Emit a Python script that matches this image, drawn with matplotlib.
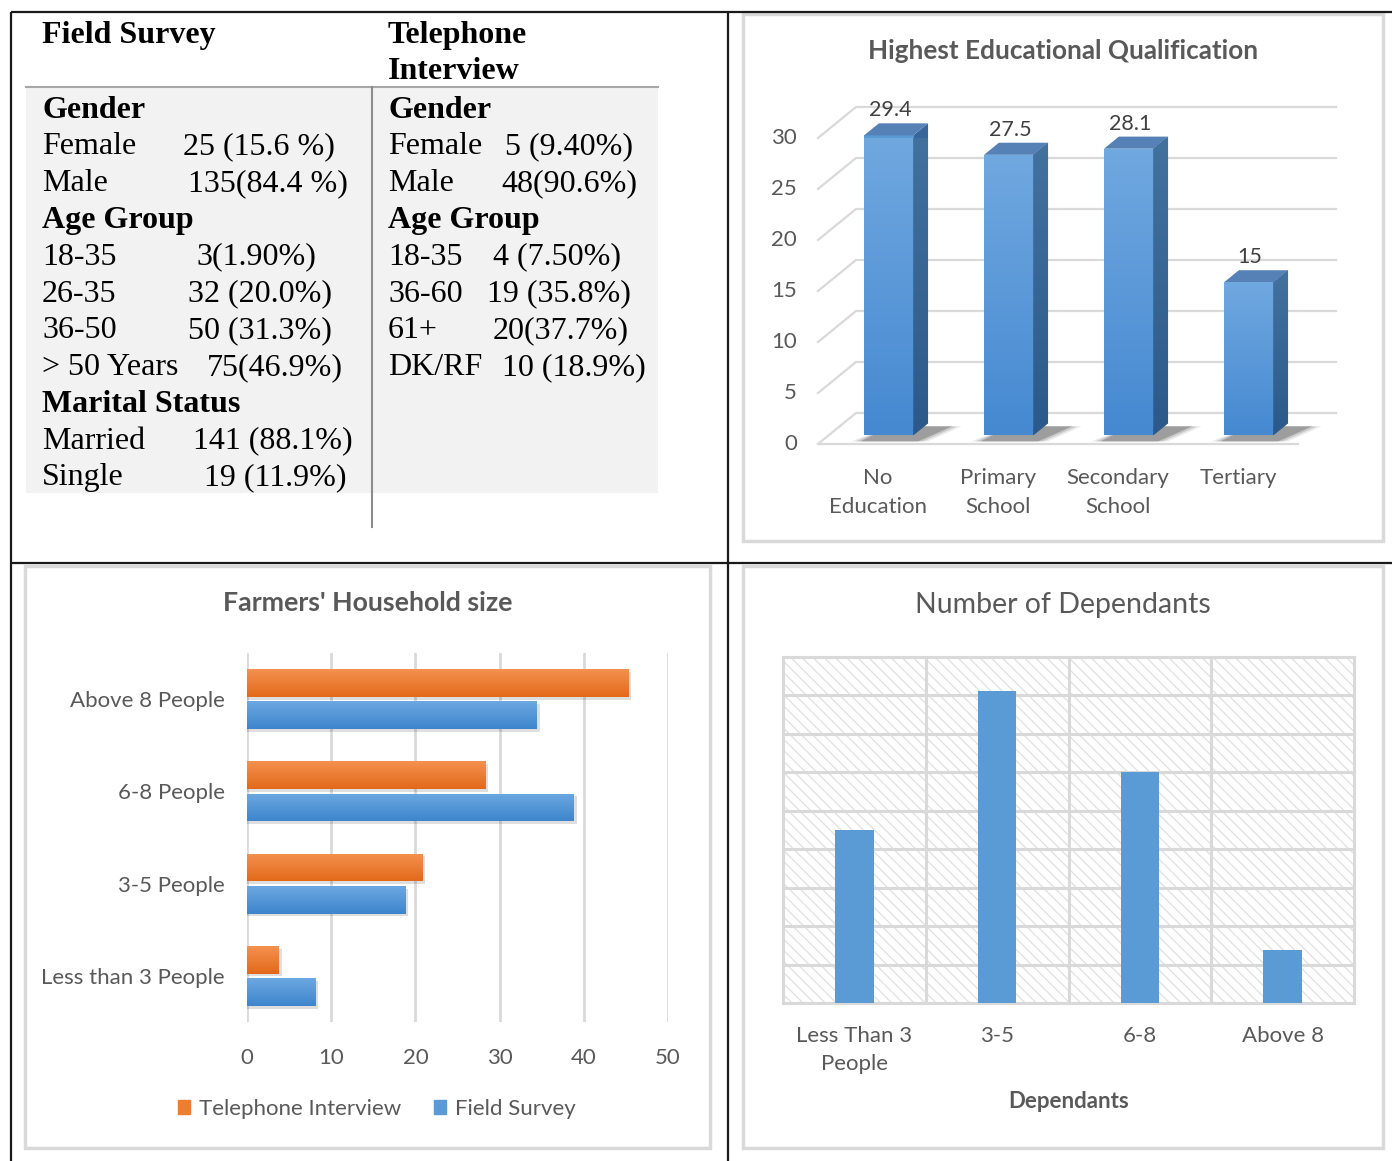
import numpy as np
import matplotlib
matplotlib.use("Agg")
import matplotlib.pyplot as plt
from matplotlib.patches import Polygon, Rectangle, Patch
from matplotlib.colors import LinearSegmentedColormap

W, H = 1392, 1161
SERIF = "Liberation Serif"
SANS = "Lato"
TXT = "#595959"
GRID = "#D9D9D9"

# respondent profile table
field_sections = ["Gender", "Age Group", "Marital Status"]
field_labels = [["Female", "Male"],
                ["18-35", "26-35", "36-50", "> 50 Years"],
                ["Married", "Single"]]
field_values = [["25 (15.6 %)", "135(84.4 %)"],
                ["3(1.90%)", "32 (20.0%)", "50 (31.3%)", "75(46.9%)"],
                ["141 (88.1%)", "19 (11.9%)"]]
phone_sections = ["Gender", "Age Group"]
phone_labels = [["Female", "Male"],
                ["18-35", "36-60", "61+", "DK/RF"]]
phone_values = [["5 (9.40%)", "48(90.6%)"],
                ["4 (7.50%)", "19 (35.8%)", "20(37.7%)", "10 (18.9%)"]]

# highest educational qualification (%)
edu_levels = ["No\nEducation", "Primary\nSchool", "Secondary\nSchool", "Tertiary"]
edu_pct = [29.4, 27.5, 28.1, 15]

# household size (%)
household_sizes = ["Less than 3 People", "3-5 People", "6-8 People", "Above 8 People"]
household_phone = [3.8, 20.8, 28.3, 45.3]
household_field = [8.1, 18.8, 38.8, 34.4]

# number of dependants (%)
dependant_groups = ["Less Than 3\nPeople", "3-5", "6-8", "Above 8"]
dependant_pct = [22.5, 40.6, 30.0, 6.9]

# x where the value column starts in each table row
field_value_x = [183, 188, 196, 188, 188, 207, 193, 204]
phone_value_x = [505, 501, 493, 487, 493, 502]

fig = plt.figure(figsize=(W / 100, H / 100), dpi=100)
bg = fig.add_axes([0, 0, 1, 1])
bg.set_xlim(0, W)
bg.set_ylim(H, 0)
bg.axis("off")

plt.rcParams["hatch.linewidth"] = 0.9


def add_ax(x0, y0, x1, y1):
    return fig.add_axes([x0 / W, 1 - y1 / H, (x1 - x0) / W, (y1 - y0) / H])


def gradient_fill(ax, patch, c_top, c_bottom, extent, z):
    cmap = LinearSegmentedColormap.from_list("g", [c_top, c_bottom])
    grad = np.linspace(0, 1, 64).reshape(-1, 1)
    im = ax.imshow(grad, cmap=cmap, extent=extent, aspect="auto",
                   zorder=z, interpolation="bilinear")
    im.set_clip_path(patch)
    return im


# outer table frame
frame = dict(color="#1a1a1a", lw=1.6, solid_capstyle="butt")
bg.plot([11, W], [12, 12], **frame)
bg.plot([11, W], [563, 563], **frame)
bg.plot([11, 11], [12, H], **frame)
bg.plot([728, 728], [12, H], **frame)

# chart panel borders
for x0, y0, x1, y1 in [(743, 14, 1383, 541), (25, 566, 710, 1148), (743, 566, 1383, 1148)]:
    bg.add_patch(Rectangle((x0, y0), x1 - x0, y1 - y0, fill=False, ec=GRID, lw=2.5))

# ---- profile table ----
bg.add_patch(Rectangle((26, 88), 632, 405, fc="#F2F2F2", ec="none"))
bg.plot([26, 658], [87, 87], color="#A6A6A6", lw=1.5)
bg.plot([372, 372], [87, 527], color="#8C8C8C", lw=1.5)

tfont = dict(fontfamily=SERIF, fontsize=23, color="black", va="baseline")
bg.text(42, 43, "Field Survey", fontweight="bold", **tfont)
bg.text(388, 43, "Telephone", fontweight="bold", **tfont)
bg.text(388, 79, "Interview", fontweight="bold", **tfont)


def table_column(x_label, sections, labels, values, value_x):
    r, k = 0, 0
    for sec, labs, vals in zip(sections, labels, values):
        bg.text(x_label, 117.5 + r * 36.8, sec, fontweight="bold", **tfont)
        r += 1
        for lab, val in zip(labs, vals):
            y = 117.5 + r * 36.8
            bg.text(x_label, y, lab, **tfont)
            bg.text(value_x[k], y, val, **tfont)
            r += 1
            k += 1


table_column(42, field_sections, field_labels, field_values, field_value_x)
table_column(388, phone_sections, phone_labels, phone_values, phone_value_x)

# ---- 3D column chart: education ----
bg.text(1063, 51, "Highest Educational Qualification", ha="center", va="center",
        fontfamily=SANS, fontweight="bold", fontsize=18.8, color=TXT)

ax3 = add_ax(818, 138, 1298, 444)
ax3.axis("off")
DX, DY = 38 / 120, 31 / 10.2      # depth vector in data units
for v in range(0, 31, 5):
    ax3.plot([-0.5, -0.5 + DX, 3.5 + DX], [v, v + DY, v + DY], color=GRID,
             lw=1.6, clip_on=False, zorder=1)
    ax3.text(-0.675, v, str(v), ha="right", va="center", fontfamily=SANS,
             fontsize=16, color=TXT)
ax3.plot([-0.5, 3.5], [0, 0], color=GRID, lw=1.6, clip_on=False, zorder=1)

F0, BW, DEP = 0.28, 0.41, 0.39
ddx, ddy = DEP * DX, DEP * DY
for i, (v, lab) in enumerate(zip(edu_pct, edu_levels)):
    x0 = i - BW / 2 + F0 * DX
    x1 = x0 + BW
    y0 = F0 * DY
    y1 = y0 + v
    # soft floor shadow
    for grow, a in [(0.08, 0.10), (0.04, 0.18), (0.0, 0.28)]:
        shadow = Polygon([(x0 - 0.03 - grow, y0 - 0.6), (x1 + 0.04 + grow, y0 - 0.6),
                          (x1 + ddx + 0.2 + grow, y0 + ddy - 0.3),
                          (x0 + ddx + 0.1, y0 + ddy - 0.3)],
                         closed=True, fc="#303030", ec="none", alpha=a,
                         clip_on=False, zorder=2)
        ax3.add_patch(shadow)
    front = Polygon([(x0, y0), (x1, y0), (x1, y1), (x0, y1)], closed=True,
                    fc="#5B9BD5", ec="none", clip_on=False, zorder=3)
    side = Polygon([(x1, y0), (x1 + ddx, y0 + ddy), (x1 + ddx, y1 + ddy), (x1, y1)],
                   closed=True, fc="#36669A", ec="none", clip_on=False, zorder=3)
    top = Polygon([(x0, y1), (x1, y1), (x1 + ddx, y1 + ddy), (x0 + ddx, y1 + ddy)],
                  closed=True, fc="#5581B6", ec="none", clip_on=False, zorder=3)
    for p in (front, side, top):
        ax3.add_patch(p)
    gradient_fill(ax3, front, "#70A8E0", "#4689D1", [x0, x1, y0, y1], 4)
    gradient_fill(ax3, side, "#44729F", "#2C5989", [x1, x1 + ddx, y0, y1 + ddy], 4)
    ax3.text(i + 0.1, v + 3.3, f"{v:g}", ha="center", va="center",
             fontfamily=SANS, fontsize=15.5, color="#404040")
    ax3.text(i, -2.35, lab, ha="center", va="top", fontfamily=SANS,
             fontsize=16, color=TXT, linespacing=1.55)
ax3.set_xlim(-0.5, 3.5)
ax3.set_ylim(0, 30)

# ---- horizontal bars: household size ----
bg.text(368, 603, "Farmers' Household size", ha="center", va="center",
        fontfamily=SANS, fontweight="bold", fontsize=19.3, color=TXT)

axh = add_ax(247, 653, 668, 1022)
ypos = np.arange(len(household_sizes))
ORANGE, BLUE = "#ED7D31", "#5B9BD5"
BH, OFF = 0.30, 0.175
# drop shadows
axh.barh(ypos + OFF - 0.03, np.array(household_phone) + 0.35, height=BH,
         color="black", alpha=0.13, zorder=2)
axh.barh(ypos - OFF - 0.03, np.array(household_field) + 0.35, height=BH,
         color="black", alpha=0.13, zorder=2)
phone_bars = axh.barh(ypos + OFF, household_phone, height=BH, color=ORANGE, zorder=3)
field_bars = axh.barh(ypos - OFF, household_field, height=BH, color=BLUE, zorder=3)
for bar in phone_bars:
    x, y, w, h = bar.get_x(), bar.get_y(), bar.get_width(), bar.get_height()
    gradient_fill(axh, bar, "#F4914F", "#E2691A", [x, x + w, y, y + h], 4)
for bar in field_bars:
    x, y, w, h = bar.get_x(), bar.get_y(), bar.get_width(), bar.get_height()
    gradient_fill(axh, bar, "#6CA8E1", "#3E85CD", [x, x + w, y, y + h], 4)
axh.set_xlim(0, 50)
axh.set_ylim(-0.5, 3.5)
axh.set_xticks(range(0, 51, 10))
axh.set_yticks(ypos, household_sizes)
axh.grid(axis="x", color=GRID, lw=2)
axh.set_axisbelow(True)
for s in axh.spines.values():
    s.set_visible(False)
axh.tick_params(length=0, colors=TXT, labelsize=16)
axh.tick_params(axis="x", pad=18.5)
axh.tick_params(axis="y", pad=16)
for t in axh.get_xticklabels() + axh.get_yticklabels():
    t.set_fontfamily(SANS)

handles = [Patch(color=ORANGE), Patch(color=BLUE)]
fig.legend(handles, ["Telephone Interview", "Field Survey"], loc="center",
           bbox_to_anchor=(377 / W, 1 - 1109 / H), ncol=2, frameon=False,
           handlelength=0.55, handleheight=0.55, handletextpad=0.4,
           columnspacing=1.45, labelcolor=TXT,
           prop=dict(family=SANS, size=16))

# ---- columns: number of dependants ----
bg.text(1063, 605, "Number of Dependants", ha="center", va="center",
        fontfamily=SANS, fontsize=20.5, color=TXT)

axd = add_ax(783, 657, 1354, 1003)
axd.add_patch(Rectangle((-0.5, 0), 4, 45, fc="white", ec="#E0E0E0", lw=0,
                        hatch="\\\\\\", zorder=0))
axd.bar(range(len(dependant_groups)), dependant_pct, width=0.27, color=BLUE, zorder=3)
axd.set_xlim(-0.5, 3.5)
axd.set_ylim(0, 45)
axd.set_yticks(range(0, 46, 5))
axd.set_yticklabels([])
axd.grid(axis="y", color=GRID, lw=2.2, zorder=1)
for xv in (0.5, 1.5, 2.5):
    axd.axvline(xv, color=GRID, lw=2.2, zorder=1)
for s in axd.spines.values():
    s.set_color(GRID)
    s.set_linewidth(2.2)
axd.set_xticks(range(len(dependant_groups)), dependant_groups)
axd.tick_params(length=0, colors=TXT, labelsize=16)
axd.tick_params(axis="x", pad=16.5)
for t in axd.get_xticklabels():
    t.set_fontfamily(SANS)
    t.set_linespacing(1.5)
axd.set_xlabel("Dependants", fontfamily=SANS, fontweight="bold", fontsize=16,
               color=TXT, labelpad=12)

fig.savefig("out.png", dpi=100, facecolor="white")
